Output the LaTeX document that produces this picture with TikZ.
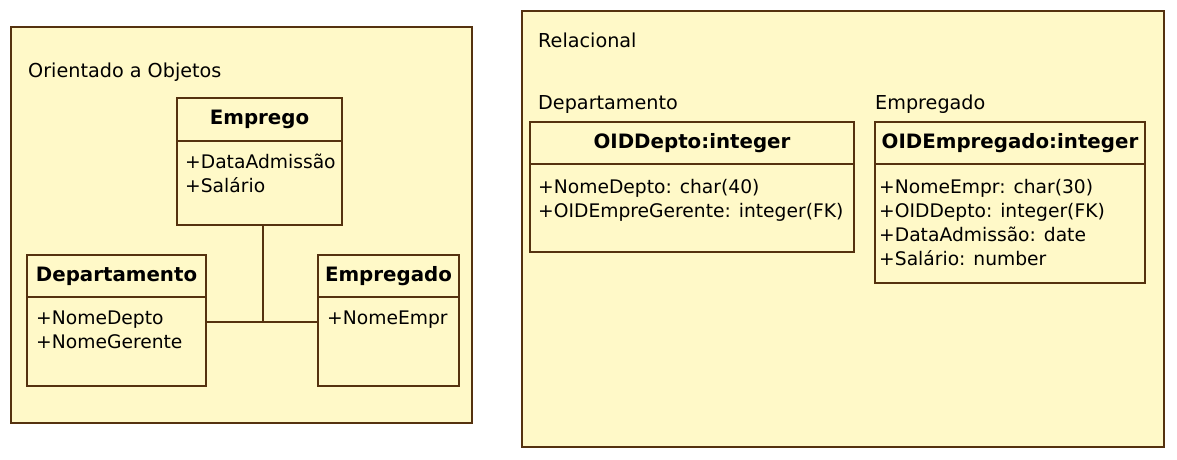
\documentclass[tikz,border=0pt]{standalone}
\usepackage{fontspec}
\setmainfont{DejaVu Sans}
\usetikzlibrary{positioning,calc}

\begin{document}
\begin{tikzpicture}[x=1pt, y=-1pt,
        panel/.style={draw=umlborder, fill=umlfill, line width=1.6pt, outer sep=0pt},
        classhead/.style={draw=umlborder, fill=umlfill, line width=1.6pt, inner sep=0pt, outer sep=0pt, anchor=north west, font=\fontsize{19.8}{24}\selectfont\bfseries},
        classbody/.style={draw=umlborder, fill=umlfill, line width=1.6pt, inner sep=0pt, outer sep=0pt},
        attrs/.style={anchor=north west, align=left, inner sep=0pt, font=\fontsize{18.7}{24}\selectfont},
        caption/.style={anchor=west, inner sep=0pt, font=\fontsize{19.2}{24}\selectfont}]
        % Define the UML note colors
        \definecolor{umlfill}{RGB}{255,249,200}
        \definecolor{umlborder}{RGB}{85,50,15}

        \useasboundingbox (0,0) rectangle (1177,459);

        % Left panel - object oriented model
        \node[panel, minimum width=461pt, minimum height=396pt, anchor=north west, inner sep=0pt] (oopanel) at (11,27) {};
        \node[caption] (ootitle) at (28,72) {Orientado a Objetos};

        % Class Emprego
        \node[classhead, minimum width=165pt, minimum height=43pt] (emprego) at (177,98) {Emprego};
        \node[classbody, minimum width=165pt, minimum height=84pt, below=0pt of emprego] (empregobody) {};
        \node[attrs] (empregoattr) at ($(empregobody.north west)+(8,13)$) {+DataAdmissão\\+Salário};

        % Class Departamento
        \node[classhead, minimum width=179pt, minimum height=42pt] (depto) at (27,255) {Departamento};
        \node[classbody, minimum width=179pt, minimum height=89pt, below=0pt of depto] (deptobody) {};
        \node[attrs] (deptoattr) at ($(deptobody.north west)+(9,14)$) {+NomeDepto\\+NomeGerente};

        % Class Empregado
        \node[classhead, minimum width=141pt, minimum height=42pt] (empregado) at (318,255) {Empregado};
        \node[classbody, minimum width=141pt, minimum height=89pt, below=0pt of empregado] (empregadobody) {};
        \node[attrs] (empregadoattr) at ($(empregadobody.north west)+(9,14)$) {+NomeEmpr};

        % Association class link
        \coordinate (juncao) at ($(empregobody.south)+(3.5,97)$);
        \draw[umlborder, line width=1.6pt] (empregobody.south -| juncao) -- (juncao);
        \draw[umlborder, line width=1.6pt] (deptobody.east |- juncao) -- (empregadobody.west |- juncao);

        % Right panel - relational model
        \node[panel, minimum width=642pt, minimum height=436pt, anchor=north west, inner sep=0pt] (relpanel) at (522,11) {};
        \node[caption] (reltitle) at (538,40) {Relacional};

        % Table Departamento
        \node[caption] (deptotabname) at (538,104) {Departamento};
        \node[classhead, minimum width=324pt, minimum height=42pt] (deptotab) at (530,122) {OIDDepto:integer};
        \node[classbody, minimum width=324pt, minimum height=88pt, below=0pt of deptotab] (deptotabbody) {};
        \node[attrs] (deptotabattr) at ($(deptotabbody.north west)+(8,15)$) {+NomeDepto: char(40)\\+OIDEmpreGerente: integer(FK)};

        % Table Empregado
        \node[caption] (emptabname) at (875,104) {Empregado};
        \node[classhead, minimum width=270pt, minimum height=42pt] (emptab) at (875,122) {OIDEmpregado:integer};
        \node[classbody, minimum width=270pt, minimum height=119pt, below=0pt of emptab] (emptabbody) {};
        \node[attrs] (emptabattr) at ($(emptabbody.north west)+(4,15)$) {+NomeEmpr: char(30)\\+OIDDepto: integer(FK)\\+DataAdmissão: date\\+Salário: number};
    \end{tikzpicture}
\end{document}
